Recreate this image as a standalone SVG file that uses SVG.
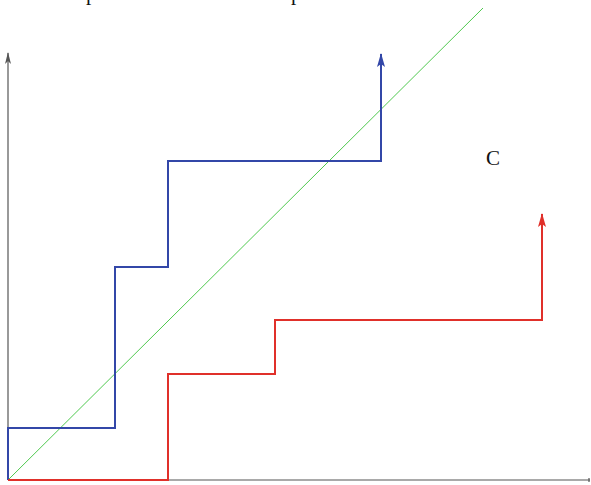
<svg xmlns="http://www.w3.org/2000/svg" width="591" height="485" viewBox="0 0 591 485">
<defs>
<style>
.ax{stroke:#555;stroke-width:1.2;fill:none}
.blue{stroke:#3347a8;stroke-width:2;fill:none}
.red{stroke:#e0302a;stroke-width:2;fill:none}
.green{stroke:#4fc94f;stroke-width:1;fill:none}
.t{font-family:"Liberation Serif",serif;font-size:21px;fill:#111}
</style>
<marker id="ma" markerWidth="12" markerHeight="6" refX="11" refY="3" orient="auto" markerUnits="userSpaceOnUse" viewBox="0 0 12 6"><path d="M0,0 L12,3 L0,6 L3,3 Z" fill="#555"/></marker>
<marker id="mb" markerWidth="14" markerHeight="8" refX="13" refY="4" orient="auto" markerUnits="userSpaceOnUse" viewBox="0 0 14 8"><path d="M0,0 L14,4 L0,8 L3,4 Z" fill="#3347a8"/></marker>
<marker id="mr" markerWidth="14" markerHeight="8" refX="13" refY="4" orient="auto" markerUnits="userSpaceOnUse" viewBox="0 0 14 8"><path d="M0,0 L14,4 L0,8 L3,4 Z" fill="#e0302a"/></marker>
</defs>
<g id="axes">
<line class="ax" x1="8" y1="480" x2="8" y2="53" marker-end="url(#ma)"/>
<line class="ax" x1="8" y1="480" x2="590" y2="480"/>
<line class="ax" x1="589" y1="478" x2="589" y2="482"/>
</g>
<g id="connectors">
<line class="green" x1="8" y1="480" x2="483" y2="8"/>
<polyline class="blue" points="8,480 8,428 115,428 115,267 168,267 168,161 381,161 381,54" marker-end="url(#mb)"/>
<polyline class="red" points="8,480 168,480 168,374 275,374 275,320 542,320 542,214" marker-end="url(#mr)"/>
</g>
<g id="labels">
<text class="t" x="86" y="0">p</text>
<text class="t" x="291" y="0">p</text>
<text class="t" x="486" y="165">C</text>
</g>
</svg>
